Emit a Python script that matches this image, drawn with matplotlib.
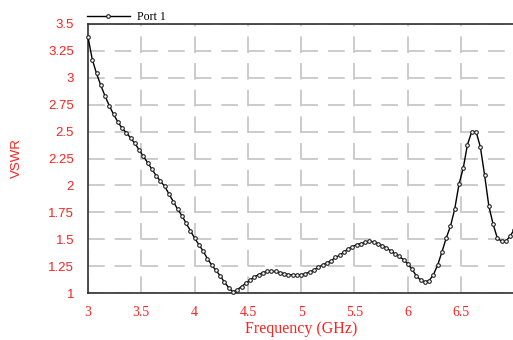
import numpy as np
import matplotlib
matplotlib.use('Agg')
import matplotlib.pyplot as plt

# Frequency sweep (GHz), one point every 0.04 GHz
freq = [3.00, 3.04, 3.08, 3.12, 3.16, 3.20, 3.24, 3.28, 3.32, 3.36,
        3.40, 3.44, 3.48, 3.52, 3.56, 3.60, 3.64, 3.68, 3.72, 3.76,
        3.80, 3.84, 3.88, 3.92, 3.96, 4.00, 4.04, 4.08, 4.12, 4.16,
        4.20, 4.24, 4.28, 4.32, 4.36, 4.40, 4.44, 4.48, 4.52, 4.56,
        4.60, 4.64, 4.68, 4.72, 4.76, 4.80, 4.84, 4.88, 4.92, 4.96,
        5.00, 5.04, 5.08, 5.12, 5.16, 5.20, 5.24, 5.28, 5.32, 5.36,
        5.40, 5.44, 5.48, 5.52, 5.56, 5.60, 5.64, 5.68, 5.72, 5.76,
        5.80, 5.84, 5.88, 5.92, 5.96, 6.00, 6.04, 6.08, 6.12, 6.16,
        6.20, 6.24, 6.28, 6.32, 6.36, 6.40, 6.44, 6.48, 6.52, 6.56,
        6.60, 6.64, 6.68, 6.72, 6.76, 6.80, 6.84, 6.88, 6.92, 6.96,
        7.00]

# VSWR
vswr = [3.38, 3.17, 3.04, 2.93, 2.83, 2.74, 2.66, 2.59, 2.53, 2.49,
        2.44, 2.39, 2.33, 2.27, 2.21, 2.15, 2.09, 2.04, 1.99, 1.92,
        1.85, 1.78, 1.72, 1.65, 1.58, 1.51, 1.45, 1.39, 1.32, 1.26,
        1.21, 1.16, 1.10, 1.05, 1.01, 1.03, 1.06, 1.09, 1.12, 1.15,
        1.17, 1.19, 1.20, 1.20, 1.20, 1.19, 1.18, 1.17, 1.17, 1.17,
        1.17, 1.18, 1.195, 1.215, 1.24, 1.26, 1.28, 1.30, 1.33, 1.35,
        1.38, 1.41, 1.43, 1.45, 1.46, 1.47, 1.48, 1.475, 1.46, 1.44,
        1.42, 1.39, 1.365, 1.34, 1.31, 1.27, 1.22, 1.16, 1.12, 1.105,
        1.115, 1.17, 1.26, 1.38, 1.51, 1.62, 1.78, 2.01, 2.16, 2.38,
        2.50, 2.50, 2.36, 2.10, 1.81, 1.64, 1.51, 1.48, 1.48, 1.53,
        1.59]

xticks = [3, 3.5, 4, 4.5, 5, 5.5, 6, 6.5, 7]
xticklabels = ['3', '3.5', '4', '4.5', '5', '5.5', '6', '6.5', '']
yticks = [1, 1.25, 1.5, 1.75, 2, 2.25, 2.5, 2.75, 3, 3.25, 3.5]
yticklabels = ['1', '1.25', '1.5', '1.75', '2', '2.25', '2.5', '2.75', '3', '3.25', '3.5']

red = '#ff2020'

fig = plt.figure(figsize=(5.13, 3.40), dpi=100)
ax = fig.add_axes([88 / 513, 47 / 340, 426.4 / 513, 269 / 340])

ax.plot(freq, vswr, color='black', linewidth=1.0, marker='o', markersize=2.6,
        markerfacecolor='white', markeredgecolor='#202020', markeredgewidth=0.8,
        label='Port 1', clip_on=False, zorder=3)

ax.set_xlim(3, 7)
ax.set_ylim(1, 3.5)
ax.set_xticks(xticks)
ax.set_xticklabels(xticklabels, family='Liberation Serif', fontsize=10, color=red)
ax.set_yticks(yticks)
ax.set_yticklabels(yticklabels, family='Liberation Sans', fontsize=9.5, color=red)
ax.tick_params(length=0)
ax.tick_params(axis='x', pad=9)
ax.tick_params(axis='y', pad=10)

ax.grid(True, color='#c4c4c4', linestyle=(0, (10, 6)), linewidth=1.2)
ax.set_axisbelow(True)

for side in ['left', 'bottom', 'top', 'right']:
    ax.spines[side].set_color('#303030')
    ax.spines[side].set_linewidth(1.2)

ax.set_xlabel('Frequency (GHz)', family='Liberation Serif', fontsize=11.5,
              color=red, labelpad=2)
ax.set_ylabel('VSWR', family='Liberation Sans', fontsize=9.5, color=red,
              labelpad=18)

ax.legend(loc='lower left', bbox_to_anchor=(-0.002, 1.005), frameon=False,
          handlelength=3.6, handletextpad=0.6, borderaxespad=0,
          borderpad=0, prop={'family': 'Liberation Serif', 'size': 8.5})

fig.savefig('out.png', dpi=100)
